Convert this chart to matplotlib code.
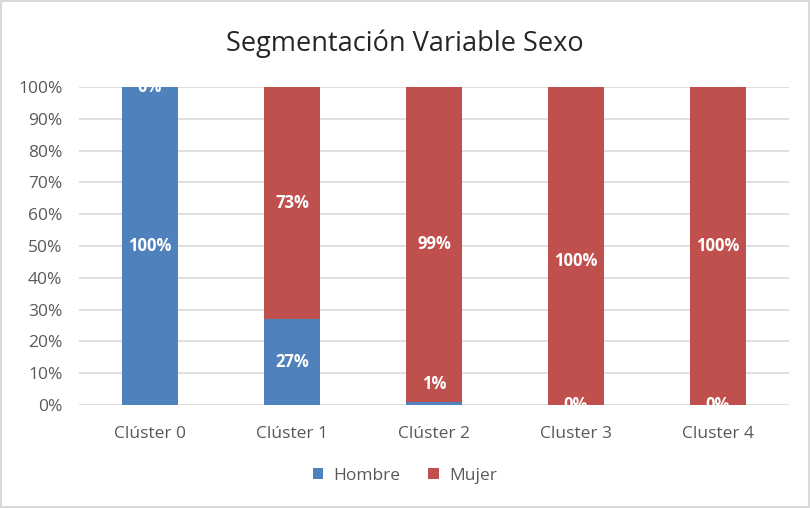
import matplotlib.pyplot as plt
from matplotlib.patches import Rectangle
from matplotlib.ticker import PercentFormatter

categories = ["Clúster 0", "Clúster 1", "Clúster 2", "Cluster 3", "Cluster 4"]
hombre = [100, 27, 1, 0, 0]
mujer = [0, 73, 99, 100, 100]

BLUE = "#4F81BD"
RED = "#C0504D"
GREY = "#595959"

# label nudges (points) to mimic where Excel put a few of the data labels
hombre_nudge = [0, 0, 14, 0, 0]
mujer_nudge = [0, 0, 0, -11, 0]

plt.rcParams["font.family"] = ["Open Sans", "DejaVu Sans"]

fig = plt.figure(figsize=(8.1, 5.08), dpi=100)
ax = fig.add_axes([79 / 810, 1 - 405 / 508, 710 / 810, 318 / 508])

x = range(len(categories))
width = 0.39
b1 = ax.bar(x, hombre, width, color=BLUE, label="Hombre", zorder=2)
b2 = ax.bar(x, mujer, width, bottom=hombre, color=RED, label="Mujer", zorder=2)

for bars, vals, bottoms, nudge in ((b1, hombre, [0] * 5, hombre_nudge),
                                   (b2, mujer, hombre, mujer_nudge)):
    for rect, v, b, dy in zip(bars, vals, bottoms, nudge):
        ax.annotate(f"{v}%", (rect.get_x() + rect.get_width() / 2, b + v / 2),
                    xytext=(0, dy), textcoords="offset points",
                    ha="center", va="center", color="white", fontsize=12,
                    fontweight="bold", zorder=3, annotation_clip=False,
                    clip_on=True)

ax.set_xlim(-0.5, len(categories) - 0.5)
ax.set_ylim(0, 100)
ax.set_yticks(range(0, 101, 10))
ax.yaxis.set_major_formatter(PercentFormatter(decimals=0))
ax.set_xticks(list(x))
ax.set_xticklabels(categories)
ax.tick_params(axis="both", length=0, colors=GREY, labelsize=12.5)
ax.tick_params(axis="x", pad=15)
ax.tick_params(axis="y", pad=12)
ax.grid(axis="y", color="#D9D9D9", linewidth=1.2, zorder=0)
ax.set_axisbelow(True)
for s in ax.spines.values():
    s.set_visible(False)

fig.text(0.5, 1 - 44 / 508, "Segmentación Variable Sexo", ha="center",
         va="center", fontsize=19.5, color="#262626")

ax.legend(loc="center", bbox_to_anchor=(0.5, 1 - 476 / 508), bbox_transform=fig.transFigure,
          ncol=2, frameon=False, fontsize=12.5, labelcolor=GREY, handlelength=0.6,
          handleheight=0.6, columnspacing=1.6, handletextpad=0.6)

fig.add_artist(Rectangle((0.001, 0.001), 0.998, 0.998, transform=fig.transFigure,
                         fill=False, edgecolor="#D9D9D9", linewidth=1.5))

fig.savefig("out.png", dpi=100)
